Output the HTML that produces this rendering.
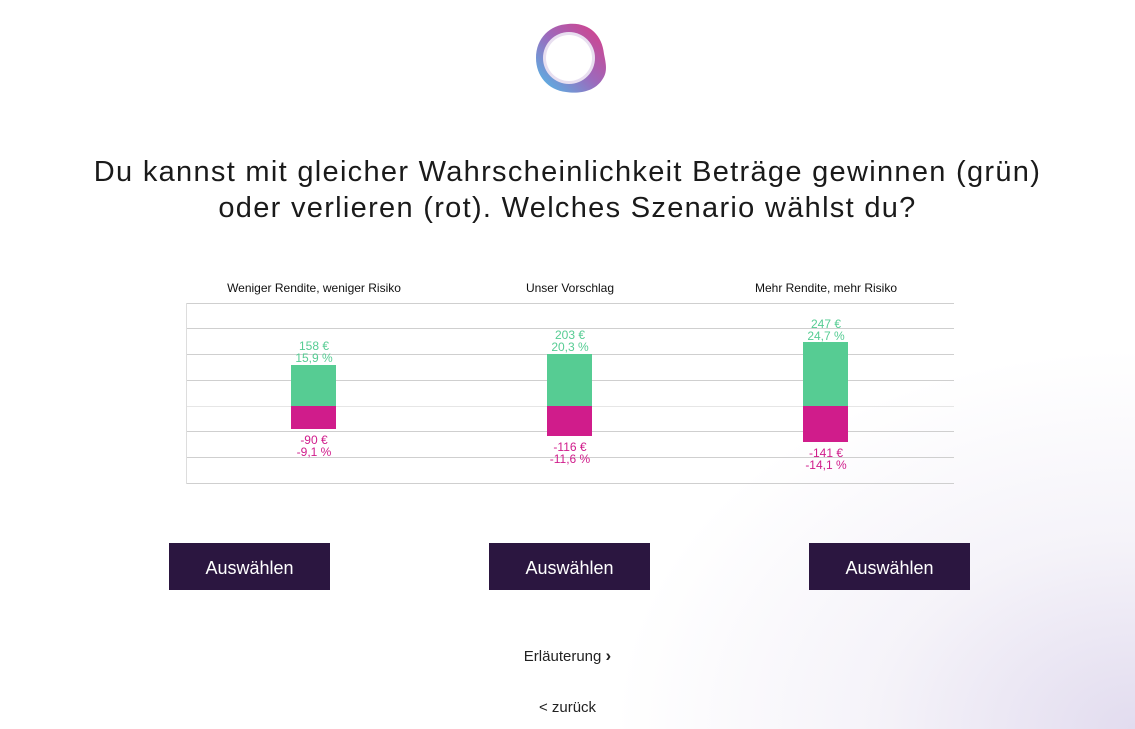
<!DOCTYPE html>
<html><head><meta charset="utf-8"><style>
body{margin:0;width:1135px;height:729px;overflow:hidden;font-family:"Liberation Sans",sans-serif;
background:radial-gradient(ellipse 520px 380px at 1135px 729px,#e2dcef 0%,#f5f3f9 50%,#ffffff 100%);position:relative}
.t{position:absolute;left:0;width:1135px;text-align:center;font-size:29px;letter-spacing:1.3px;color:#1a1a1a;line-height:36px;top:154px}
.a{position:absolute;font-size:12px;color:#111;text-align:center;width:260px}
.g{position:absolute;left:186px;width:768px;height:1px;background:#cfcfcf}
.bar{position:absolute;width:45px}
.l{position:absolute;width:120px;text-align:center;font-size:12px;line-height:12px}
.btn{position:absolute;top:543px;width:161px;height:47px;background:#2b1640;color:#fff;font-size:18px;line-height:50px;text-align:center}
.lk{position:absolute;left:0;width:1135px;text-align:center;font-size:15px;color:#222}
</style></head><body>
<svg style="position:absolute;left:532px;top:20px" width="76" height="76" viewBox="0 0 76 76">
<defs><linearGradient id="lg" x1="0" y1="1" x2="1" y2="0"><stop offset="0" stop-color="#2bb6e8"/><stop offset=".5" stop-color="#8b4fb0"/><stop offset="1" stop-color="#d6186f"/></linearGradient></defs>
<path d="M36 4C56 2 70 14 72 34C74 44 76 52 70 60C62 72 46 74 34 72C16 70 4 56 4 38C4 18 18 5 36 4Z" fill="url(#lg)" opacity=".85"/>
<circle cx="37" cy="38" r="26" fill="#e8dff0"/>
<circle cx="37" cy="38" r="23" fill="#fff"/>
</svg>
<div class="t">Du kannst mit gleicher Wahrscheinlichkeit Beträge gewinnen (grün)<br>oder verlieren (rot). Welches Szenario wählst du?</div>
<div class="a" style="left:184px;top:281px">Weniger Rendite, weniger Risiko</div>
<div class="a" style="left:440px;top:281px">Unser Vorschlag</div>
<div class="a" style="left:696px;top:281px">Mehr Rendite, mehr Risiko</div>
<div class="g" style="top:303px"></div><div class="g" style="top:328px"></div><div class="g" style="top:354px"></div><div class="g" style="top:380px"></div><div class="g" style="top:406px;background:#e6e6e6"></div><div class="g" style="top:431px"></div><div class="g" style="top:457px"></div><div class="g" style="top:483px"></div>
<div style="position:absolute;left:186px;top:303px;width:1px;height:181px;background:#ddd"></div>
<div class="bar" style="left:291px;top:365px;height:41px;background:#56cc93"></div>
<div class="bar" style="left:291px;top:406px;height:23px;background:#d01c8b"></div>
<div class="bar" style="left:547px;top:354px;height:52px;background:#56cc93"></div>
<div class="bar" style="left:547px;top:406px;height:30px;background:#d01c8b"></div>
<div class="bar" style="left:803px;top:342px;height:64px;background:#56cc93"></div>
<div class="bar" style="left:803px;top:406px;height:36px;background:#d01c8b"></div>
<div class="l" style="left:254px;top:340px;color:#56cc93">158 €<br>15,9 %</div>
<div class="l" style="left:254px;top:434px;color:#d01c8b">-90 €<br>-9,1 %</div>
<div class="l" style="left:510px;top:329px;color:#56cc93">203 €<br>20,3 %</div>
<div class="l" style="left:510px;top:441px;color:#d01c8b">-116 €<br>-11,6 %</div>
<div class="l" style="left:766px;top:318px;color:#56cc93">247 €<br>24,7 %</div>
<div class="l" style="left:766px;top:447px;color:#d01c8b">-141 €<br>-14,1 %</div>
<div class="btn" style="left:169px">Auswählen</div>
<div class="btn" style="left:489px">Auswählen</div>
<div class="btn" style="left:809px">Auswählen</div>
<div class="lk" style="top:646px">Erläuterung <b style="font-size:17px">›</b></div>
<div class="lk" style="top:699px">&lt; zurück</div>
</body></html>
